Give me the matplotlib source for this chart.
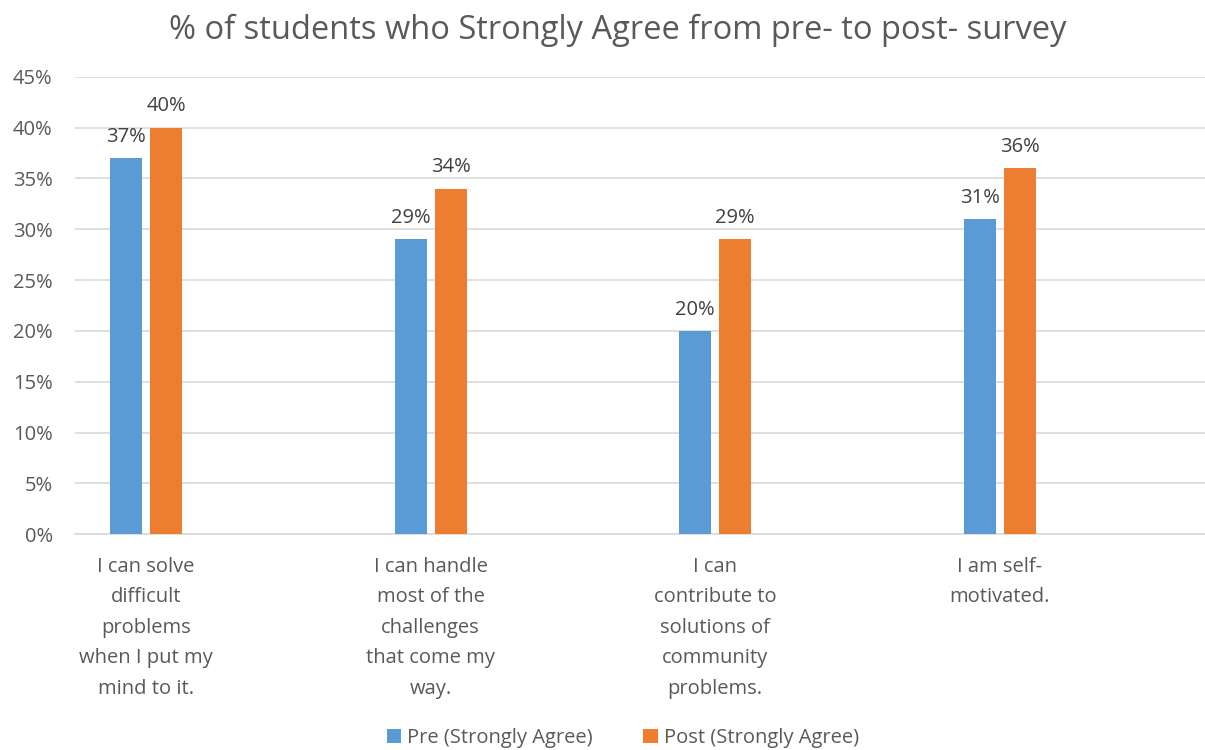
import matplotlib.pyplot as plt
import numpy as np

plt.rcParams['font.family'] = ['Open Sans', 'DejaVu Sans']

# data
categories = ["I can solve\ndifficult\nproblems\nwhen I put my\nmind to it.",
              "I can handle\nmost of the\nchallenges\nthat come my\nway.",
              "I can\ncontribute to\nsolutions of\ncommunity\nproblems.",
              "I am self-\nmotivated."]
pre = [37, 29, 20, 31]
post = [40, 34, 29, 36]
series_names = ["Pre (Strongly Agree)", "Post (Strongly Agree)"]
yticks = [0, 5, 10, 15, 20, 25, 30, 35, 40, 45]

blue = "#5B9BD5"
orange = "#ED7D31"
text_col = "#595959"

fig = plt.figure(figsize=(12.05, 7.5), dpi=100)
ax = fig.add_axes([0.0622, 0.2876, 0.9378, 0.6101])

x = np.arange(len(categories))
w = 0.1125
off = 0.0703
b1 = ax.bar(x - off, pre, w, color=blue, label=series_names[0], zorder=3)
b2 = ax.bar(x + off, post, w, color=orange, label=series_names[1], zorder=3)

for bars, vals in [(b1, pre), (b2, post)]:
    for b, v in zip(bars, vals):
        ax.text(b.get_x() + b.get_width() / 2, v + 1.1, f"{v}%", ha="center",
                va="bottom", fontsize=14.5, color="#404040")

ax.set_xlim(-0.25, 3.722)
ax.set_ylim(0, 45)
ax.set_yticks(yticks)
ax.set_yticklabels([f"{t}%" for t in yticks], fontsize=14.5, color=text_col)
ax.yaxis.grid(True, color="#D9D9D9", linewidth=1.2, zorder=0)
ax.tick_params(axis="y", length=0, pad=16)
ax.tick_params(axis="x", length=0, pad=16)
ax.set_xticks(x)
ax.set_xticklabels(categories, fontsize=14.5, color=text_col, linespacing=1.7)
for s in ["top", "right", "left"]:
    ax.spines[s].set_visible(False)
ax.spines["bottom"].set_color("#D9D9D9")
ax.spines["bottom"].set_linewidth(1.2)

fig.suptitle("% of students who Strongly Agree from pre- to post- survey",
             fontsize=23.5, color=text_col, x=0.5125, y=0.982)

fig.legend(handles=[b1, b2], loc="lower center", bbox_to_anchor=(0.517, -0.022),
           ncol=2, frameon=False, fontsize=14.5, labelcolor=text_col,
           handlelength=0.7, handleheight=0.7, handletextpad=0.3, columnspacing=2.5)

fig.savefig("out.png", dpi=100)
